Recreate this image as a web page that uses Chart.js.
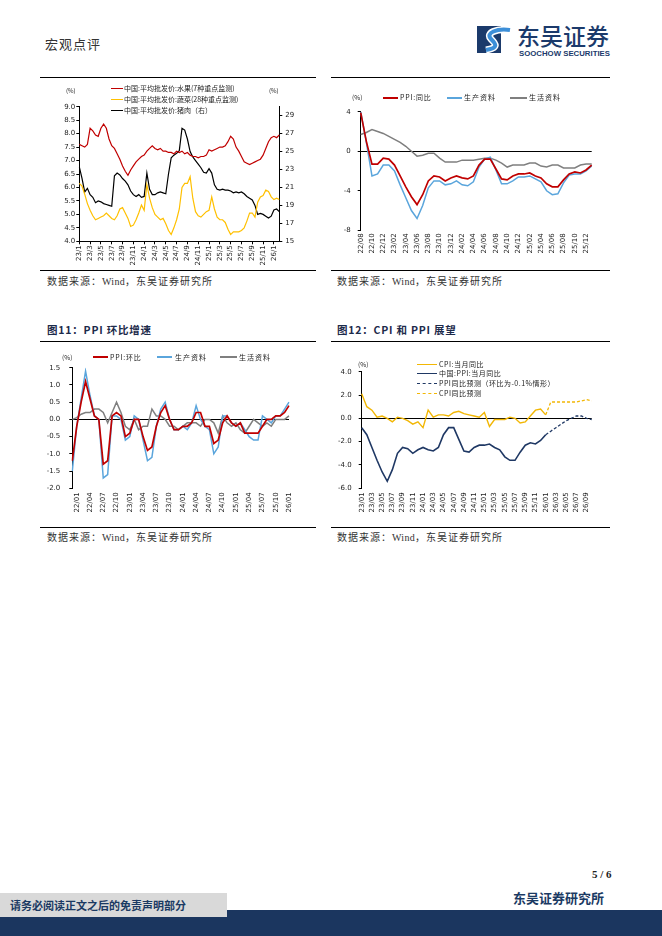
<!DOCTYPE html>
<html lang="zh-CN">
<head>
<meta charset="utf-8">
<script src="https://cdn.jsdelivr.net/npm/chart.js@4.4.1/dist/chart.umd.min.js"></script>
<style>
html,body{margin:0;padding:0;background:#fff}
body{width:662px;height:936px;position:relative;overflow:hidden;font-family:"Noto Sans CJK SC","Noto Sans",sans-serif;color:#000}
.t{position:absolute;white-space:nowrap;line-height:1}
.rule{position:absolute;height:1px;background:#000}
canvas{position:absolute}
.lg{position:absolute;white-space:nowrap;font-size:7px;line-height:7px;color:#222}
.sw{position:absolute;height:0}
.src{font-size:10px;letter-spacing:1px;color:#333}
.src span{font-family:"Liberation Serif",serif;letter-spacing:0.3px}
.ttl{font-size:10.5px;font-weight:700;color:#1c2a4a;letter-spacing:0.8px}
</style>
</head>
<body>
<!-- header -->
<div class="t" style="left:45px;top:37px;font-size:13px;color:#333;letter-spacing:1px">宏观点评</div>
<svg style="position:absolute;left:477px;top:26px" width="37" height="27" viewBox="0 0 37 27">
  <rect x="0" y="0" width="24" height="27" fill="#1b3a6b"/>
  <path d="M33 4 C20 2, 8 7, 14 13 C19 18, 22 22, 9 24" stroke="#ffffff" stroke-width="7" fill="none"/>
  <path d="M33 4 C20 2, 8 7, 14 13 C19 18, 22 22, 9 24" stroke="#3d8fd8" stroke-width="4" fill="none"/>
</svg>
<div class="t" style="left:517px;top:24px;font-size:23px;color:#1b3a6b;font-weight:500">东吴证券</div>
<div class="t" style="left:519px;top:49.5px;font-size:7.8px;color:#1b3a6b;font-weight:700;font-family:'Liberation Sans',sans-serif">SOOCHOW SECURITIES</div>

<!-- panel rules -->
<div class="rule" style="left:40px;top:77px;width:276px"></div>
<div class="rule" style="left:331px;top:77px;width:279px"></div>
<div class="rule" style="left:40px;top:270px;width:276px"></div>
<div class="rule" style="left:331px;top:270px;width:279px"></div>
<div class="t src" style="left:47px;top:276px">数据来源：<span>Wind</span>，东吴证券研究所</div>
<div class="t src" style="left:337px;top:276px">数据来源：<span>Wind</span>，东吴证券研究所</div>

<div class="t ttl" style="left:47px;top:324.5px">图11：PPI 环比增速</div>
<div class="t ttl" style="left:337px;top:324.5px">图12：CPI 和 PPI 展望</div>
<div class="rule" style="left:40px;top:341px;width:276px"></div>
<div class="rule" style="left:331px;top:341px;width:279px"></div>
<div class="rule" style="left:40px;top:527px;width:276px"></div>
<div class="rule" style="left:331px;top:527px;width:279px"></div>
<div class="t src" style="left:47px;top:532px">数据来源：<span>Wind</span>，东吴证券研究所</div>
<div class="t src" style="left:337px;top:532px">数据来源：<span>Wind</span>，东吴证券研究所</div>

<!-- canvases -->
<canvas id="c1" width="276" height="185" style="left:40px;top:80px"></canvas>
<canvas id="c2" width="279" height="185" style="left:331px;top:80px"></canvas>
<canvas id="c3" width="276" height="182" style="left:40px;top:343px"></canvas>
<canvas id="c4" width="279" height="182" style="left:331px;top:343px"></canvas>

<!-- legends chart 1 -->
<div class="lg" style="left:66px;top:87px;font-size:6px">(%)</div>
<div class="lg" style="left:269px;top:87px;font-size:6px">(%)</div>
<div class="sw" style="left:111px;top:88px;width:12px;border-top:1.3px solid #C00000"></div>
<div class="lg" style="left:124px;top:84.8px">中国:平均批发价:水果(7种重点监测)</div>
<div class="sw" style="left:111px;top:99px;width:12px;border-top:1.3px solid #FFC000"></div>
<div class="lg" style="left:124px;top:95.8px">中国:平均批发价:蔬菜(28种重点监测)</div>
<div class="sw" style="left:111px;top:110px;width:12px;border-top:1.3px solid #000"></div>
<div class="lg" style="left:124px;top:106.8px">中国:平均批发价:猪肉（右）</div>

<!-- legends chart 2 -->
<div class="lg" style="left:352px;top:94.2px;font-size:6.5px">(%)</div>
<div class="sw" style="left:383px;top:97px;width:15px;border-top:2px solid #C00000"></div>
<div class="lg" style="left:400px;top:94.2px;letter-spacing:0.8px">PPI:同比</div>
<div class="sw" style="left:447px;top:97px;width:15px;border-top:2px solid #5AA5DC"></div>
<div class="lg" style="left:464px;top:94.2px;letter-spacing:1px">生产资料</div>
<div class="sw" style="left:510px;top:97px;width:17px;border-top:2px solid #7F7F7F"></div>
<div class="lg" style="left:529px;top:94.2px;letter-spacing:1px">生活资料</div>

<!-- legends chart 3 -->
<div class="lg" style="left:62px;top:353.5px;font-size:6.5px">(%)</div>
<div class="sw" style="left:93px;top:356px;width:15px;border-top:2px solid #C00000"></div>
<div class="lg" style="left:110px;top:353.5px;letter-spacing:0.8px">PPI:环比</div>
<div class="sw" style="left:157px;top:356px;width:15px;border-top:2px solid #5AA5DC"></div>
<div class="lg" style="left:175px;top:353.5px;letter-spacing:1px">生产资料</div>
<div class="sw" style="left:220px;top:356px;width:17px;border-top:2px solid #7F7F7F"></div>
<div class="lg" style="left:239px;top:353.5px;letter-spacing:1px">生活资料</div>

<!-- legends chart 4 -->
<div class="lg" style="left:358px;top:360.5px;font-size:6.5px">(%)</div>
<div class="sw" style="left:417px;top:363.5px;width:20px;border-top:1.5px solid #F2B705"></div>
<div class="lg" style="left:439px;top:360.5px;letter-spacing:0.5px">CPI:当月同比</div>
<div class="sw" style="left:417px;top:373px;width:20px;border-top:1.5px solid #1F3864"></div>
<div class="lg" style="left:439px;top:370.2px;letter-spacing:0.5px">中国:PPI:当月同比</div>
<div class="sw" style="left:417px;top:382.5px;width:20px;border-top:1.5px dashed #1F3864"></div>
<div class="lg" style="left:439px;top:379.5px;letter-spacing:0.5px">PPI同比预测（环比为-0.1%情形）</div>
<div class="sw" style="left:417px;top:392.5px;width:20px;border-top:1.5px dashed #F2B705"></div>
<div class="lg" style="left:439px;top:389.5px;letter-spacing:0.5px">CPI同比预测</div>

<!-- footer -->
<div class="t" style="left:592px;top:868.5px;font-size:11px;font-weight:700;font-family:'Liberation Serif',serif;color:#222">5 / 6</div>
<div class="t" style="left:513px;top:890.5px;font-size:13px;font-weight:700;color:#1b3a63">东吴证券研究所</div>
<div style="position:absolute;left:0;top:910px;width:662px;height:26px;background:#1b365f"></div>
<div style="position:absolute;left:0;top:893px;width:227px;height:24px;background:#d9d9d9"></div>
<div class="t" style="left:10px;top:899.5px;font-size:11px;font-weight:700;color:#1b3a63">请务必阅读正文之后的免责声明部分</div>

<script>
// ---------- Chart 1: wholesale prices (half-month points, 23/1 .. mid 26/2) ----------
const c1TickLabels = ['23/1','23/3','23/5','23/7','23/9','23/11','24/1','24/3','24/5','24/7','24/9','24/11','25/1','25/3','25/5','25/7','25/9','25/11','26/1'];
const c1Fruit = [7.6,7.55,7.5,7.6,8.2,8.1,7.95,7.9,8.2,8.35,
  8.2,7.8,7.55,7.45,7.25,7.05,6.8,6.6,6.45,6.65,
  6.8,6.95,7.05,7.15,7.2,7.35,7.45,7.55,7.45,7.4,
  7.45,7.35,7.35,7.3,7.3,7.25,7.35,7.3,7.35,7.25,
  7.3,7.2,7.15,7.15,7.1,7.15,7.15,7.2,7.4,7.35,
  7.4,7.45,7.5,7.5,7.55,7.7,7.9,7.8,7.5,7.35,
  7.15,6.95,6.9,6.85,6.9,6.95,7.0,7.05,7.2,7.45,
  7.7,7.85,7.9,7.85,7.95];
const c1Veg = [6.15,6.05,5.75,5.4,5.15,4.95,4.8,4.85,4.9,4.95,
  5.05,4.95,4.85,4.8,4.95,5.2,5.25,5.05,4.85,4.55,
  4.6,4.8,5.05,5.35,5.15,6.1,5.6,5.25,5.0,4.9,
  4.8,4.85,4.65,4.4,4.25,4.5,4.8,5.2,6.0,6.15,
  6.15,6.4,5.6,5.1,4.95,4.9,5.0,5.1,5.15,5.65,
  5.2,4.9,4.8,4.8,4.7,4.45,4.25,4.35,4.35,4.35,
  4.4,4.5,4.75,5.05,5.05,4.9,5.45,5.65,5.7,5.9,
  5.85,5.65,5.55,5.6,5.55];
const c1Pork = [23.3,22.0,20.5,20.9,20.2,19.9,19.3,19.5,19.4,19.2,
  19.1,19.0,18.9,22.3,22.6,22.4,22.0,21.7,21.3,20.6,
  20.2,20.0,20.2,19.9,20.0,22.6,20.8,20.2,20.2,20.4,
  20.5,20.4,20.3,22.5,24.3,24.6,24.8,25.1,27.6,27.4,
  26.4,25.0,24.4,24.0,23.6,23.2,22.7,22.6,23.1,22.6,
  21.3,20.8,20.7,20.8,20.7,20.7,20.6,20.4,20.5,20.4,
  20.5,20.3,20.0,19.8,19.6,19.0,18.0,18.1,18.0,17.8,
  17.6,17.8,18.5,18.6,18.3];
const c1Labels = c1Fruit.map((_, i) => (i % 4 === 0 && c1TickLabels[i / 4]) ? c1TickLabels[i / 4] : '');
const c1RightTicks = [15,17,19,21,23,25,27,29];

// ---------- Chart 2: PPI YoY (22/08 .. 26/01) ----------
function monthLabels(y, m, n) {
  const out = [];
  for (let i = 0; i < n; i++) {
    out.push(String(y).padStart(2, '0') + '/' + String(m).padStart(2, '0'));
    m++; if (m > 12) { m = 1; y++; }
  }
  return out;
}
const c2Labels = monthLabels(22, 8, 42);
const c2PPI  = [3.9,1.0,-1.3,-1.3,-0.7,-0.8,-1.4,-2.5,-3.6,-4.6,-5.4,-4.4,-3.0,-2.5,-2.6,-3.0,-2.7,-2.5,-2.7,-2.8,-2.5,-1.4,-0.8,-0.8,-1.8,-2.8,-2.9,-2.5,-2.3,-2.3,-2.2,-2.5,-2.7,-3.3,-3.6,-3.6,-2.9,-2.3,-2.1,-2.2,-1.9,-1.4];
const c2Prod = [4.0,0.9,-2.5,-2.3,-1.4,-1.4,-2.0,-3.4,-4.7,-6.0,-6.8,-5.5,-3.7,-3.0,-3.0,-3.4,-3.3,-3.0,-3.4,-3.5,-3.1,-1.6,-0.8,-0.6,-1.9,-3.3,-3.3,-3.0,-2.6,-2.6,-2.5,-2.8,-3.1,-4.0,-4.4,-4.3,-3.2,-2.4,-2.3,-2.3,-2.0,-1.5];
const c2Cons = [1.7,1.9,2.2,2.0,1.8,1.5,1.2,0.9,0.5,0.0,-0.5,-0.4,-0.2,-0.2,-0.7,-1.1,-1.1,-1.1,-0.9,-0.9,-0.9,-0.8,-0.7,-0.7,-0.9,-1.2,-1.6,-1.4,-1.4,-1.4,-1.2,-1.2,-1.5,-1.6,-1.4,-1.4,-1.7,-1.7,-1.7,-1.4,-1.3,-1.3];

// ---------- Chart 3: PPI MoM (21/12 .. 26/01) ----------
const c3Labels = monthLabels(21, 12, 50);
const c3PPI  = [-1.2,-0.2,0.5,1.1,0.6,0.1,0.0,-1.3,-1.2,0.1,0.2,0.1,-0.5,-0.4,0.0,0.0,-0.5,-0.9,-0.8,-0.2,0.2,0.4,0.0,-0.3,-0.3,-0.2,-0.2,-0.1,0.2,0.2,-0.2,-0.2,-0.7,-0.6,-0.1,0.1,-0.1,-0.2,-0.1,-0.4,-0.4,-0.4,-0.4,-0.2,0.0,0.0,0.1,0.1,0.2,0.4];
const c3Prod = [-1.5,-0.2,0.6,1.4,0.7,0.1,0.0,-1.7,-1.6,0.1,0.1,0.0,-0.6,-0.5,0.1,0.0,-0.6,-1.2,-1.1,-0.2,0.3,0.5,0.0,-0.3,-0.3,-0.2,-0.3,-0.1,0.4,0.0,-0.2,-0.3,-1.0,-0.8,0.1,0.1,-0.1,-0.2,-0.1,-0.3,-0.5,-0.6,-0.6,0.1,0.0,-0.1,0.1,0.1,0.3,0.5];
const c3Cons = [0.0,0.05,0.15,0.2,0.2,0.3,0.3,0.2,-0.1,0.2,0.5,0.2,-0.2,-0.3,0.0,-0.3,-0.2,-0.2,0.3,0.1,0.1,0.0,-0.2,-0.2,-0.3,-0.2,-0.1,-0.1,-0.1,-0.2,0.0,0.0,-0.1,-0.4,0.1,-0.1,-0.2,-0.1,-0.3,-0.4,-0.2,0.0,-0.1,-0.2,-0.1,-0.2,0.0,0.0,0.0,0.1];

// ---------- Chart 4: CPI & PPI outlook (23/01 .. 26/10) ----------
const c4Labels = monthLabels(23, 1, 46);
const c4CPI = [2.1,1.0,0.7,0.1,0.2,0.0,-0.3,0.1,0.0,-0.2,-0.5,-0.3,
  -0.8,0.7,0.1,0.3,0.3,0.2,0.5,0.6,0.4,0.3,0.2,0.1,
  0.5,-0.7,-0.1,-0.1,-0.1,0.1,0.0,-0.4,-0.3,0.2,0.7,0.8,
  0.3];
const c4PPI = [-0.8,-1.4,-2.5,-3.6,-4.6,-5.4,-4.4,-3.0,-2.5,-2.6,-3.0,-2.7,
  -2.5,-2.7,-2.8,-2.5,-1.4,-0.8,-0.8,-1.8,-2.8,-2.9,-2.5,-2.3,
  -2.3,-2.2,-2.5,-2.7,-3.3,-3.6,-3.6,-2.9,-2.3,-2.1,-2.2,-1.9,
  -1.4];
const c4PPIFcst = [-1.4,-1.1,-0.8,-0.5,-0.2,0.0,0.2,0.2,0.0,-0.1]; // from 26/01
const c4CPIFcst = [0.3,1.4,1.4,1.4,1.4,1.4,1.4,1.5,1.6,1.5];       // from 26/01
const c4FcstStart = 36;

// ---------- helpers ----------
Chart.defaults.font.family = "'DejaVu Sans', sans-serif";
Chart.defaults.font.size = 7;
Chart.defaults.color = '#222';
Chart.defaults.animation = false;

function ln(label, data, color, width, dash, axis) {
  return { label, data, borderColor: color, backgroundColor: color, borderWidth: width,
    borderDash: dash || [], pointRadius: 0, pointHoverRadius: 0, tension: 0, fill: false,
    spanGaps: false, yAxisID: axis || 'y' };
}
function xAxis(show, h, pad, withLine) {
  return {
    type: 'category', offset: false,
    afterBuildTicks: s => { s.ticks = s.ticks.filter(t => show(t.value)); },
    afterFit: s => { s.height = h; },
    ticks: { autoSkip: false, maxRotation: 90, minRotation: 90, padding: pad, color: '#222',
      font: { size: 7 }, callback: function (v) { return this.getLabelForValue(v); } },
    grid: withLine ? { display: true, drawOnChartArea: false, drawTicks: true, tickLength: 3, color: '#000', tickColor: '#000' }
                   : { display: false, drawTicks: false },
    border: { display: !!withLine, color: '#000', width: 1 }
  };
}
function yAxis(o) {
  const ax = {
    type: 'linear', position: o.position || 'left', min: o.min, max: o.max,
    afterFit: s => { s.width = o.w; },
    ticks: { stepSize: o.step, padding: o.pad, color: '#222', font: { size: 7 },
      callback: v => o.fmt(v) },
    grid: o.zero ? { drawOnChartArea: true, drawTicks: true, tickLength: 3, tickColor: '#000', lineWidth: 1,
        color: c => (c.tick && Math.abs(c.tick.value) < 1e-9) ? '#000' : 'rgba(0,0,0,0)' }
      : { drawOnChartArea: false, drawTicks: true, tickLength: 3, tickColor: '#000', color: '#000' },
    border: { display: true, color: '#000', width: 1 }
  };
  if (o.ticksList) ax.afterBuildTicks = s => { s.ticks = o.ticksList.map(v => ({ value: v })); };
  return ax;
}
function base(datasets, labels, scales, padding) {
  return {
    type: 'line',
    data: { labels, datasets },
    options: {
      responsive: false, devicePixelRatio: 1, animation: false,
      layout: { padding },
      plugins: { legend: { display: false }, tooltip: { enabled: false } },
      scales
    }
  };
}
const f1 = v => v.toFixed(1);
const f0 = v => String(Math.round(v));

// ---------- Chart 1 ----------
new Chart(document.getElementById('c1'), base([
  ln('中国:平均批发价:水果(7种重点监测)', c1Fruit, '#C00000', 1.2),
  ln('中国:平均批发价:蔬菜(28种重点监测)', c1Veg, '#FFC000', 1.2),
  ln('中国:平均批发价:猪肉（右）', c1Pork, '#000000', 1.2, null, 'y2')
], c1Labels, {
  x: xAxis(i => i % 4 === 0 && i <= 72, 23.7, 1, true),
  y: yAxis({ min: 4, max: 9, step: 0.5, w: 39.3, pad: 1, fmt: f1 }),
  y2: yAxis({ min: 15, max: 30, step: 2, w: 36.7, pad: 3, fmt: f0, position: 'right', ticksList: c1RightTicks })
}, { top: 26.7, right: 0, left: 0, bottom: 0 }));

// ---------- Chart 2 ----------
new Chart(document.getElementById('c2'), base([
  ln('PPI:同比', c2PPI, '#C00000', 1.7),
  ln('生产资料', c2Prod, '#5AA5DC', 1.5),
  ln('生活资料', c2Cons, '#7F7F7F', 1.5)
], c2Labels, {
  x: xAxis(i => i % 2 === 0, 34.7, 3, false),
  y: yAxis({ min: -8, max: 4, step: 4, w: 29.7, pad: 7, fmt: f0, zero: true })
}, { top: 31.7, right: 18.3, left: 0, bottom: 0 }));

// ---------- Chart 3 ----------
new Chart(document.getElementById('c3'), base([
  ln('PPI:环比', c3PPI, '#C00000', 1.7),
  ln('生产资料', c3Prod, '#5AA5DC', 1.5),
  ln('生活资料', c3Cons, '#7F7F7F', 1.5)
], c3Labels, {
  x: xAxis(i => i % 3 === 1, 36.7, 4, false),
  y: yAxis({ min: -2, max: 1.5, step: 0.5, w: 32.3, pad: 9, fmt: f1, zero: true })
}, { top: 24.7, right: 27, left: 0, bottom: 0 }));

// ---------- Chart 4 ----------
const gap = n => Array.from({ length: n }, () => null);
new Chart(document.getElementById('c4'), base([
  ln('CPI:当月同比', c4CPI, '#F2B705', 1.4),
  ln('中国:PPI:当月同比', c4PPI, '#1F3864', 1.6),
  ln('PPI同比预测（环比为-0.1%情形）', gap(c4FcstStart).concat(c4PPIFcst), '#1F3864', 1.3, [3, 2]),
  ln('CPI同比预测', gap(c4FcstStart).concat(c4CPIFcst), '#F2B705', 1.3, [3, 2])
], c4Labels, {
  x: xAxis(i => i % 2 === 0, 36.7, 4, false),
  y: yAxis({ min: -6, max: 4, step: 2, w: 30.7, pad: 7, fmt: f1, zero: true })
}, { top: 28.7, right: 18.3, left: 0, bottom: 0 }));
</script>
</body>
</html>
